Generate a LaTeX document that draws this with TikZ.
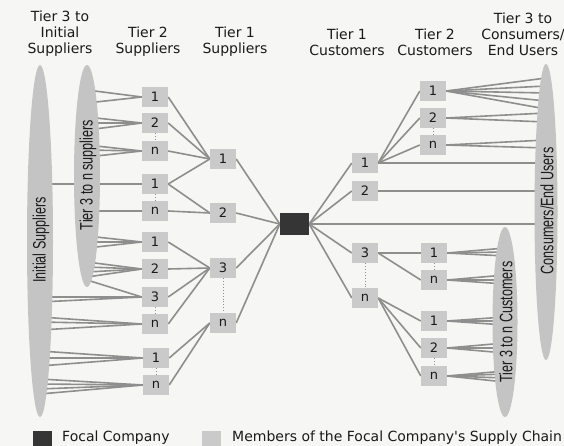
\documentclass[tikz,border=0pt]{standalone}
\usepackage{graphicx}
\usepackage{fontspec}
\setmainfont{DejaVu Sans}
\newfontfamily\condf{Liberation Sans}
\usetikzlibrary{shapes.geometric}
\definecolor{bgc}{HTML}{F6F6F4}
\definecolor{boxg}{HTML}{CACACA}
\definecolor{ellg}{HTML}{C4C4C4}
\definecolor{lineg}{HTML}{8E8E8E}
\definecolor{darkb}{HTML}{353535}
\definecolor{txt}{HTML}{1A1A1A}
\pgfdeclarelayer{back}
\pgfdeclarelayer{lines}
\pgfsetlayers{back,lines,main}
\tikzset{
  mbox/.style={fill=boxg, minimum width=26, minimum height=20, inner sep=0pt, text=txt, font=\fontsize{13}{13}\selectfont},
  focal/.style={fill=darkb, minimum width=29, minimum height=22, inner sep=0pt},
  ell/.style={ellipse, fill=ellg, inner sep=0pt, rotate=90},
  etext/.style={rotate=90, text=txt, inner sep=0pt, font=\condf\fontsize{18}{18}\selectfont},
  head/.style={align=center, text=txt, inner sep=0pt, font=\fontsize{14}{16}\selectfont},
  link/.style={draw=lineg, line width=1.6pt},
  dots/.style={draw=lineg, line width=0.9pt, dotted},
  legtext/.style={anchor=west, text=txt, inner sep=0pt, font=\fontsize{14}{14}\selectfont}
}
\begin{document}
\begin{tikzpicture}[x=1pt,y=-1pt]
\begin{pgfonlayer}{back}
\fill[bgc] (0,0) rectangle (564,446);
\end{pgfonlayer}
\useasboundingbox (0,0) rectangle (564,446);

% headers
\node[head] (h1) at (60,34) {Tier 3 to\\Initial\\Suppliers};
\node[head] (h2) at (148,42) {Tier 2\\Suppliers};
\node[head] (h3) at (235,42) {Tier 1\\Suppliers};
\node[head] (h4) at (347,42) {Tier 1\\Customers};
\node[head] (h5) at (435,42) {Tier 2\\Customers};
\node[head] (h6) at (523,34) {Tier 3 to\\Consumers/\\End Users};

% ellipses
\node[ell, minimum width=352, minimum height=26] (eIS) at (40,241) {};
\node[ell, minimum width=222, minimum height=26] (eT3) at (87,176) {};
\node[ell, minimum width=296, minimum height=23] (eCE) at (546,212) {};
\node[ell, minimum width=190, minimum height=25] (eTC) at (505,322) {};
\node[etext] (tIS) at (41,240) {\scalebox{0.7}[1]{Initial Suppliers}};
\node[etext] (tT3) at (88,175) {\scalebox{0.7}[1]{Tier 3 to n suppliers}};
\node[etext] (tCE) at (547,211) {\scalebox{0.7}[1]{Consumers/End Users}};
\node[etext] (tTC) at (506,322) {\scalebox{0.7}[1]{Tier 3 to n Customers}};

% tier 2 suppliers
\node[mbox] (sa1) at (155,97) {1};
\node[mbox] (sa2) at (155,123) {2};
\node[mbox] (san) at (155,151) {n};
\node[mbox] (sb1) at (155,184) {1};
\node[mbox] (sbn) at (155,211) {n};
\node[mbox] (sc1) at (155,242) {1};
\node[mbox] (sc2) at (155,269) {2};
\node[mbox] (sc3) at (155,297) {3};
\node[mbox] (scn) at (155,324) {n};
\node[mbox] (sd1) at (156,358) {1};
\node[mbox] (sdn) at (156,385) {n};
% tier 1 suppliers
\node[mbox] (t1) at (223,159) {1};
\node[mbox] (t2) at (223,213) {2};
\node[mbox] (t3) at (223,268) {3};
\node[mbox] (tn) at (223,323) {n};
% focal
\node[focal] (fc) at (294.5,224) {};
% tier 1 customers
\node[mbox] (c1) at (365,163) {1};
\node[mbox] (c2) at (365,191) {2};
\node[mbox] (c3) at (365,253) {3};
\node[mbox] (cn) at (365,298) {n};
% tier 2 customers
\node[mbox] (da1) at (433,91) {1};
\node[mbox] (da2) at (433,118) {2};
\node[mbox] (dan) at (433,145) {n};
\node[mbox] (db1) at (434,253) {1};
\node[mbox] (dbn) at (434,280) {n};
\node[mbox] (dc1) at (434,321) {1};
\node[mbox] (dc2) at (434,348) {2};
\node[mbox] (dcn) at (434,376) {n};

\begin{pgfonlayer}{lines}
% fans to left ellipses
\foreach \y in {90,103} \draw[link] (sa1.west) -- (eT3.center |- 0,\y);
\foreach \y in {117,123,130} \draw[link] (sa2.west) -- (eT3.center |- 0,\y);
\foreach \y in {145,150,157} \draw[link] (san.west) -- (eT3.center |- 0,\y);
\draw[link] (sb1.west) -- (eIS.center |- 0,184);
\draw[link] (sbn.west) -- (eT3.center |- 0,211);
\foreach \y in {236,242,248} \draw[link] (sc1.west) -- (eT3.center |- 0,\y);
\foreach \y in {262,267,272,277} \draw[link] (sc2.west) -- (eT3.center |- 0,\y);
\draw[link] (sc3.west) -- (eT3.center |- 0,280);
\foreach \y in {297,302} \draw[link] (sc3.west) -- (eIS.center |- 0,\y);
\foreach \y in {317,322,330} \draw[link] (scn.west) -- (eIS.center |- 0,\y);
\foreach \y in {351,358,366} \draw[link] (sd1.west) -- (eIS.center |- 0,\y);
\foreach \y in {379,384,389,394} \draw[link] (sdn.west) -- (eIS.center |- 0,\y);
% tier2 -> tier1 suppliers
\foreach \n in {sa1,sa2,san,sb1} \draw[link] (\n.east) -- (t1.west);
\foreach \n in {sb1,sbn} \draw[link] (\n.east) -- (t2.west);
\foreach \n in {sc1,sc2,sc3,scn} \draw[link] (\n.east) -- (t3.west);
\foreach \n in {sd1,sdn} \draw[link] (\n.east) -- (tn.west);
% tier1 -> focal
\foreach \n in {t1,t2,t3,tn} \draw[link] (\n.east) -- (fc.west);
% focal -> tier1 customers
\foreach \n in {c1,c2,c3,cn} \draw[link] (fc.east) -- (\n.west);
\draw[link] (fc.east) -- (eCE.center |- fc.east);
% tier1 -> tier2 customers
\foreach \n in {da1,da2,dan} \draw[link] (c1.east) -- (\n.west);
\draw[link] (c1.east) -- (eCE.center |- c1.east);
\draw[link] (c2.east) -- (eCE.center |- c2.east);
\foreach \n in {db1,dbn} \draw[link] (c3.east) -- (\n.west);
\foreach \n in {dc1,dc2,dcn} \draw[link] (cn.east) -- (\n.west);
% fans to right ellipses
\foreach \y in {78,86,93,101,109} \draw[link] (da1.east) -- (eCE.center |- 0,\y);
\foreach \y in {113,122} \draw[link] (da2.east) -- (eCE.center |- 0,\y);
\foreach \y in {140,148} \draw[link] (dan.east) -- (eCE.center |- 0,\y);
\foreach \y in {248,252,256} \draw[link] (db1.east) -- (eTC.center |- 0,\y);
\foreach \y in {275,280,284} \draw[link] (dbn.east) -- (eTC.center |- 0,\y);
\foreach \y in {317,321,325} \draw[link] (dc1.east) -- (eTC.center |- 0,\y);
\foreach \y in {343,348,353} \draw[link] (dc2.east) -- (eTC.center |- 0,\y);
\foreach \y in {371,374,378,382} \draw[link] (dcn.east) -- (eTC.center |- 0,\y);
% dotted
\draw[dots] (sa2.south) -- (san.north);
\draw[dots] (sb1.south) -- (sbn.north);
\draw[dots] (sc3.south) -- (scn.north);
\draw[dots] (sd1.south) -- (sdn.north);
\draw[dots] (t3.south) -- (tn.north);
\draw[dots] (c3.south) -- (cn.north);
\draw[dots] (da2.south) -- (dan.north);
\draw[dots] (db1.south) -- (dbn.north);
\draw[dots] (dc2.south) -- (dcn.north);
\end{pgfonlayer}

% legend
\node[fill=darkb, minimum width=19, minimum height=15, inner sep=0pt] (lg1) at (42.5,438.5) {};
\node[legtext] (lt1) at (62,438) {Focal Company};
\node[fill=boxg, minimum width=19, minimum height=15, inner sep=0pt] (lg2) at (211,438.5) {};
\node[legtext] (lt2) at (232,438) {Members of the Focal Company\textquotesingle s Supply Chain};
\end{tikzpicture}
\end{document}
